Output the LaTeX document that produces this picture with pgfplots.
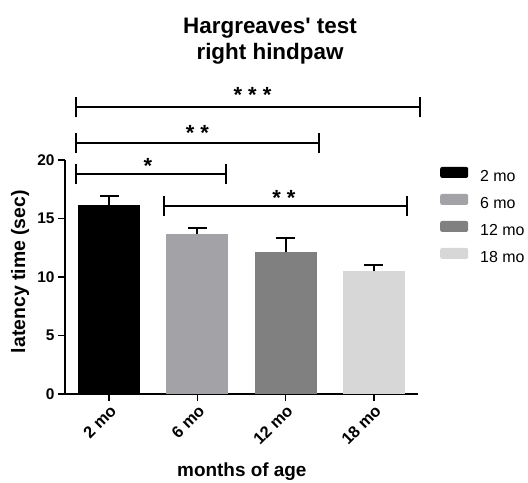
\documentclass[border=0pt]{standalone}
\usepackage{pgfplots}
\pgfplotsset{compat=1.18}
\usepackage{fontspec}
\setmainfont{Liberation Sans}
\definecolor{cSix}{HTML}{A3A3A7}
\definecolor{cTwelve}{HTML}{808080}
\definecolor{cEighteen}{HTML}{D7D7D7}
\pgfplotsset{mylegend/.style={legend image code/.code={\fill[##1, draw=none, rounded corners=2bp] (0bp,0bp) rectangle (28bp,11bp);}}}
\newcommand{\bracket}[3]{%
  \draw (axis cs:#1,#3) -- (axis cs:#2,#3);
  \draw ([yshift=-10bp]axis cs:#1,#3) -- ([yshift=10bp]axis cs:#1,#3);
  \draw ([yshift=-10bp]axis cs:#2,#3) -- ([yshift=10bp]axis cs:#2,#3);}
\begin{document}
\begin{tikzpicture}
\useasboundingbox (-65bp,-89bp) rectangle (463bp,394bp);
\begin{axis}[
  scale only axis, width=353bp, height=234bp,
  xmin=-0.5, xmax=3.5, ymin=0, ymax=20,
  axis lines*=left,
  axis line style={line width=2bp, black},
  xtick={0,1,2,3}, xticklabels={2 mo,6 mo,12 mo,18 mo},
  ytick={0,5,10,15,20},
  tick align=outside, major tick length=7bp,
  tick style={line width=1.6bp, black},
  /pgf/number format/assume math mode=true,
  tick label style={font=\fontsize{15.5}{18}\selectfont\bfseries},
  x tick label style={rotate=45, anchor=north east, inner sep=2bp, font=\fontsize{16.5}{18}\selectfont\bfseries},
  clip=false,
  ybar, bar width=62bp, bar shift=0pt,
  ylabel={latency time (sec)},
  ylabel style={at={(axis description cs:-0.1275,0.523)}, anchor=center, font=\fontsize{19.5}{22}\selectfont\bfseries},
  xlabel={months of age},
  xlabel style={at={(axis description cs:0.501,-0.333)}, anchor=center, font=\fontsize{19}{22}\selectfont\bfseries},
  legend style={at={(axis description cs:1.0623,0.9713)}, anchor=north west, draw=none, fill=none,
    inner sep=0pt, column sep=12bp, row sep=9bp,
    font=\fontsize{16}{18}\selectfont,
    nodes={inner sep=0pt, text height=10.5bp, text depth=3.5bp}},
  legend cell align=left,
  error bars/y dir=plus, error bars/y explicit,
  error bars/error mark=-,
  error bars/error bar style={line width=2bp, black},
  error bars/error mark options={rotate=90, line width=2bp, black, mark size=9.5bp},
]
\addplot[fill=black, draw=none, mylegend] coordinates {(0,16.15) +- (0,0.79)};
\addlegendentry{2 mo}
\addplot[fill=cSix, draw=none, mylegend] coordinates {(1,13.68) +- (0,0.55)};
\addlegendentry{6 mo}
\addplot[fill=cTwelve, draw=none, mylegend] coordinates {(2,12.11) +- (0,1.21)};
\addlegendentry{12 mo}
\addplot[fill=cEighteen, draw=none, mylegend] coordinates {(3,10.49) +- (0,0.55)};
\addlegendentry{18 mo}
% significance brackets
\begin{scope}[line width=2bp, black]
\bracket{-0.38}{3.52}{24.5}
\bracket{-0.38}{2.38}{21.43}
\bracket{-0.38}{1.33}{18.78}
\bracket{0.62}{3.38}{16.09}
\end{scope}
\begin{scope}[every node/.style={anchor=base, inner sep=0pt, font=\fontsize{22}{24}\selectfont\bfseries}]
\node at (axis cs:1.625,24.88) {* * *};
\node at (axis cs:1.0,21.68) {* *};
\node at (axis cs:0.44,18.81) {*};
\node at (axis cs:1.98,16.15) {* *};
\end{scope}
\end{axis}
\node[anchor=base, font=\fontsize{22.5}{26}\selectfont\bfseries] at (205bp,360.7bp) {Hargreaves\textquotesingle\ test};
\node[anchor=base, font=\fontsize{22.5}{26}\selectfont\bfseries] at (205bp,334.7bp) {right hindpaw};
\end{tikzpicture}
\end{document}
